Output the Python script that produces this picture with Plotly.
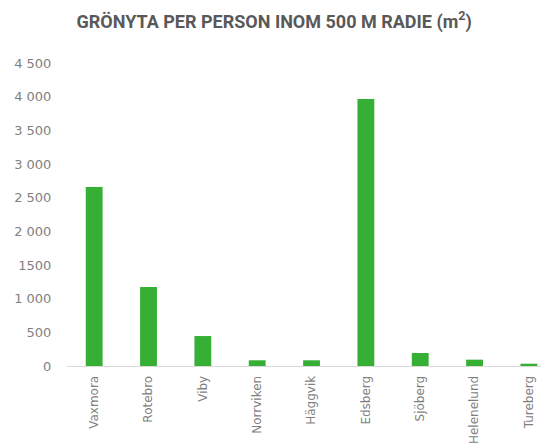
import plotly.graph_objects as go

categories = ["Vaxmora", "Rotebro", "Viby", "Norrviken", "Häggvik", "Edsberg", "Sjöberg", "Helenelund", "Tureberg"]
values = [2660, 1175, 445, 85, 85, 3965, 193, 94, 34]
tick_vals = [0, 500, 1000, 1500, 2000, 2500, 3000, 3500, 4000, 4500]
tick_text = ["0", "500", "1 000", "1500", "2 000", "2 500", "3 000", "3 500", "4 000", "4 500"]

fig = go.Figure(go.Bar(x=categories, y=values, marker_color="#35B035", marker_line_width=0))

fig.update_layout(
    width=541, height=440,
    margin=dict(l=59, r=0, t=55, b=82),
    plot_bgcolor="white", paper_bgcolor="white",
    bargap=0.69,
    showlegend=False,
    title=dict(text="<b>GRÖNYTA PER PERSON INOM 500 M RADIE (m<sup>2</sup>)</b>",
               x=0.492, xanchor="center", y=0.97, yanchor="middle",
               font=dict(family="Roboto", size=18, color="#595959")),
    font=dict(family="DejaVu Sans", size=12, color="#7f7f7f"),
)
fig.update_xaxes(range=[-0.5, 8.37], tickangle=-90, showline=True, linecolor="#d9d9d9",
                 linewidth=1, ticks="outside", ticklen=4, tickcolor="white", showgrid=False,
                 tickfont=dict(size=12))
fig.update_yaxes(range=[0, 4500], tickvals=tick_vals, ticktext=tick_text, showgrid=False,
                 zeroline=False, showline=False, ticks="outside", ticklen=12, tickcolor="white",
                 tickfont=dict(size=13))

fig.write_html("out.html")
